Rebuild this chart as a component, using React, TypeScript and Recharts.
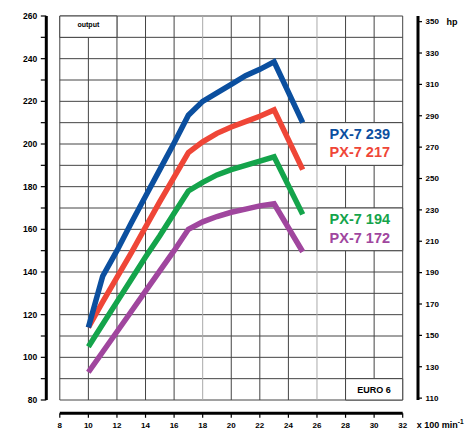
import React from 'react'
import {
    LineChart,
    Line,
    XAxis,
    YAxis,
    CartesianGrid,
    ReferenceArea
} from 'recharts'

// engine speed, x 100 min-1
const rpm = [10, 11, 12, 13, 14, 15, 16, 17, 18, 19, 20, 21, 22, 23, 25]

// output in kW
const px239 = [114, 138, 150, 163, 175.5, 188, 200.5, 213.5, 220, 224, 228, 232, 235, 238.5, 210]
const px217 = [114, 126, 137.5, 149, 161, 173, 184.5, 196, 201, 205, 208, 210.5, 213, 216, 188]
const px194 = [105, 115.5, 126, 136.5, 147, 157, 167.5, 178, 182, 185.5, 188, 190, 192, 194, 167]
const px172 = [93, 102.5, 112, 121.5, 131, 140.5, 150, 160, 163.5, 166, 168, 169.5, 171, 172, 149.5]

const rpmTicks = [8, 10, 12, 14, 16, 18, 20, 22, 24, 26, 28, 30, 32]
const kwTicks = [80, 90, 100, 110, 120, 130, 140, 150, 160, 170, 180, 190, 200, 210, 220, 230, 240, 250, 260]
const hpTicks = [110, 130, 150, 170, 190, 210, 230, 250, 270, 290, 310, 330, 350]
const lightRpm = [18, 26]

const data = rpm.map((r, i) => ({
    rpm: r,
    px239: px239[i],
    px217: px217[i],
    px194: px194[i],
    px172: px172[i]
}))

// drawn bottom to top, blue ends up on top
const series = [
    { key: 'px172', name: 'PX-7 172', color: '#a0469e' },
    { key: 'px194', name: 'PX-7 194', color: '#14a44b' },
    { key: 'px217', name: 'PX-7 217', color: '#ef4637' },
    { key: 'px239', name: 'PX-7 239', color: '#0b4f9f' }
]

const colorOf = (key: string) => series.find((s) => s.key === key)!.color
const nameOf = (key: string) => series.find((s) => s.key === key)!.name

const gridColor = '#444'

function boxLabel(lines: { text: string; color: string }[], size: number, first: number, step: number) {
    return (props: any) => {
        const { x, y, width } = props.viewBox
        return (
            <g>
                {lines.map((l, i) => (
                    <text
                        key={l.text}
                        x={x + width / 2}
                        y={y + first + i * step}
                        textAnchor="middle"
                        fontSize={size}
                        fontWeight="bold"
                        fill={l.color}
                    >
                        {l.text}
                    </text>
                ))}
            </g>
        )
    }
}

function HpTick({ x, y, payload }: any) {
    return (
        <g>
            <text x={x} y={y} dy="0.355em" fontSize={8} fontWeight="bold" fill="#000">
                {payload.value}
            </text>
            {payload.value === 350 && (
                <text x={x + 21} y={y} dy="0.355em" fontSize={9} fontWeight="bold" fill="#000">
                    hp
                </text>
            )}
        </g>
    )
}

function RpmUnit(props: any) {
    const { x, y, width } = props.viewBox
    return (
        <text x={x + width + 14} y={y + 15} fontSize={9} fontWeight="bold" fill="#000">
            x 100 min
            <tspan dy={-4} fontSize={6.5}>-1</tspan>
        </text>
    )
}

function VerticalLine(p: any) {
    const light = lightRpm.includes(rpmTicks[p.index])
    return (
        <line
            key={p.key}
            x1={p.x1}
            y1={p.y1}
            x2={p.x2}
            y2={p.y2}
            stroke={light ? '#aaa' : gridColor}
            strokeWidth={1}
        />
    )
}

export default function App() {
    return (
        <div style={{ position: 'absolute', left: 0, top: 0, fontFamily: "'Liberation Sans', Arial, sans-serif" }}>
            <LineChart width={474} height={430} data={data} margin={{ top: 16, right: 0, bottom: 0, left: 0 }}>
                <CartesianGrid xAxisId="rpm" yAxisId="kw" stroke={gridColor} vertical={VerticalLine} />

                <XAxis xAxisId="gapx" type="number" domain={[0, 1]} height={13.3} tick={false} axisLine={false} tickLine={false} />
                <XAxis
                    xAxisId="rpm"
                    dataKey="rpm"
                    type="number"
                    domain={[8, 32]}
                    ticks={rpmTicks}
                    allowDataOverflow
                    height={16.7}
                    axisLine={{ stroke: '#000', strokeWidth: 3 }}
                    tickLine={{ stroke: '#000', strokeWidth: 1.2 }}
                    tickSize={4.5}
                    tickMargin={4.5}
                    tick={{ fontSize: 8, fontWeight: 'bold', fill: '#000' }}
                    label={RpmUnit}
                />

                <YAxis yAxisId="gapl" type="number" domain={[0, 1]} width={13.5} tick={false} axisLine={false} tickLine={false} />
                <YAxis
                    yAxisId="kw"
                    type="number"
                    domain={[80, 260]}
                    ticks={kwTicks}
                    allowDataOverflow
                    width={46.3}
                    axisLine={{ stroke: '#000', strokeWidth: 3 }}
                    tickLine={{ stroke: '#000', strokeWidth: 1.2 }}
                    tickSize={5.5}
                    tickMargin={3.5}
                    tick={{ fontSize: 8.5, fontWeight: 'bold', fill: '#000' }}
                    tickFormatter={(v: number) => (v % 20 === 0 ? String(v) : '')}
                />

                <YAxis yAxisId="gapr" orientation="right" type="number" domain={[0, 1]} width={15.3} tick={false} axisLine={false} tickLine={false} />
                <YAxis
                    yAxisId="hp"
                    orientation="right"
                    type="number"
                    domain={[108.8, 353.6]}
                    ticks={hpTicks}
                    allowDataOverflow
                    width={56}
                    axisLine={{ stroke: '#000', strokeWidth: 3 }}
                    tickLine={{ stroke: '#000', strokeWidth: 1.2 }}
                    tickSize={4}
                    tickMargin={3.5}
                    tick={HpTick}
                />

                <ReferenceArea
                    xAxisId="rpm" yAxisId="kw"
                    x1={8} x2={12} y1={250} y2={260}
                    fill="#fff" fillOpacity={1} stroke={gridColor} strokeWidth={1}
                    label={boxLabel([{ text: 'output', color: '#000' }], 7, 11, 0)}
                />
                <ReferenceArea
                    xAxisId="rpm" yAxisId="kw"
                    x1={26} x2={32} y1={190} y2={210}
                    fill="#fff" fillOpacity={1} stroke={gridColor} strokeWidth={1}
                    label={boxLabel(
                        [
                            { text: nameOf('px239'), color: colorOf('px239') },
                            { text: nameOf('px217'), color: colorOf('px217') }
                        ],
                        14.5, 16, 18.5
                    )}
                />
                <ReferenceArea
                    xAxisId="rpm" yAxisId="kw"
                    x1={26} x2={32} y1={150} y2={170}
                    fill="#fff" fillOpacity={1} stroke={gridColor} strokeWidth={1}
                    label={boxLabel(
                        [
                            { text: nameOf('px194'), color: colorOf('px194') },
                            { text: nameOf('px172'), color: colorOf('px172') }
                        ],
                        14.5, 16.4, 18.5
                    )}
                />
                <ReferenceArea
                    xAxisId="rpm" yAxisId="kw"
                    x1={28} x2={32} y1={80} y2={90}
                    fill="#fff" fillOpacity={1} stroke={gridColor} strokeWidth={1}
                    label={boxLabel([{ text: 'EURO 6', color: '#000' }], 9, 14.6, 0)}
                />

                {series.map((s) => (
                    <Line
                        key={s.key}
                        xAxisId="rpm"
                        yAxisId="kw"
                        type="linear"
                        dataKey={s.key}
                        name={s.name}
                        stroke={s.color}
                        strokeWidth={5.5}
                        strokeLinejoin="miter"
                        strokeLinecap="butt"
                        dot={false}
                        activeDot={false}
                        isAnimationActive={false}
                    />
                ))}
            </LineChart>
        </div>
    )
}
